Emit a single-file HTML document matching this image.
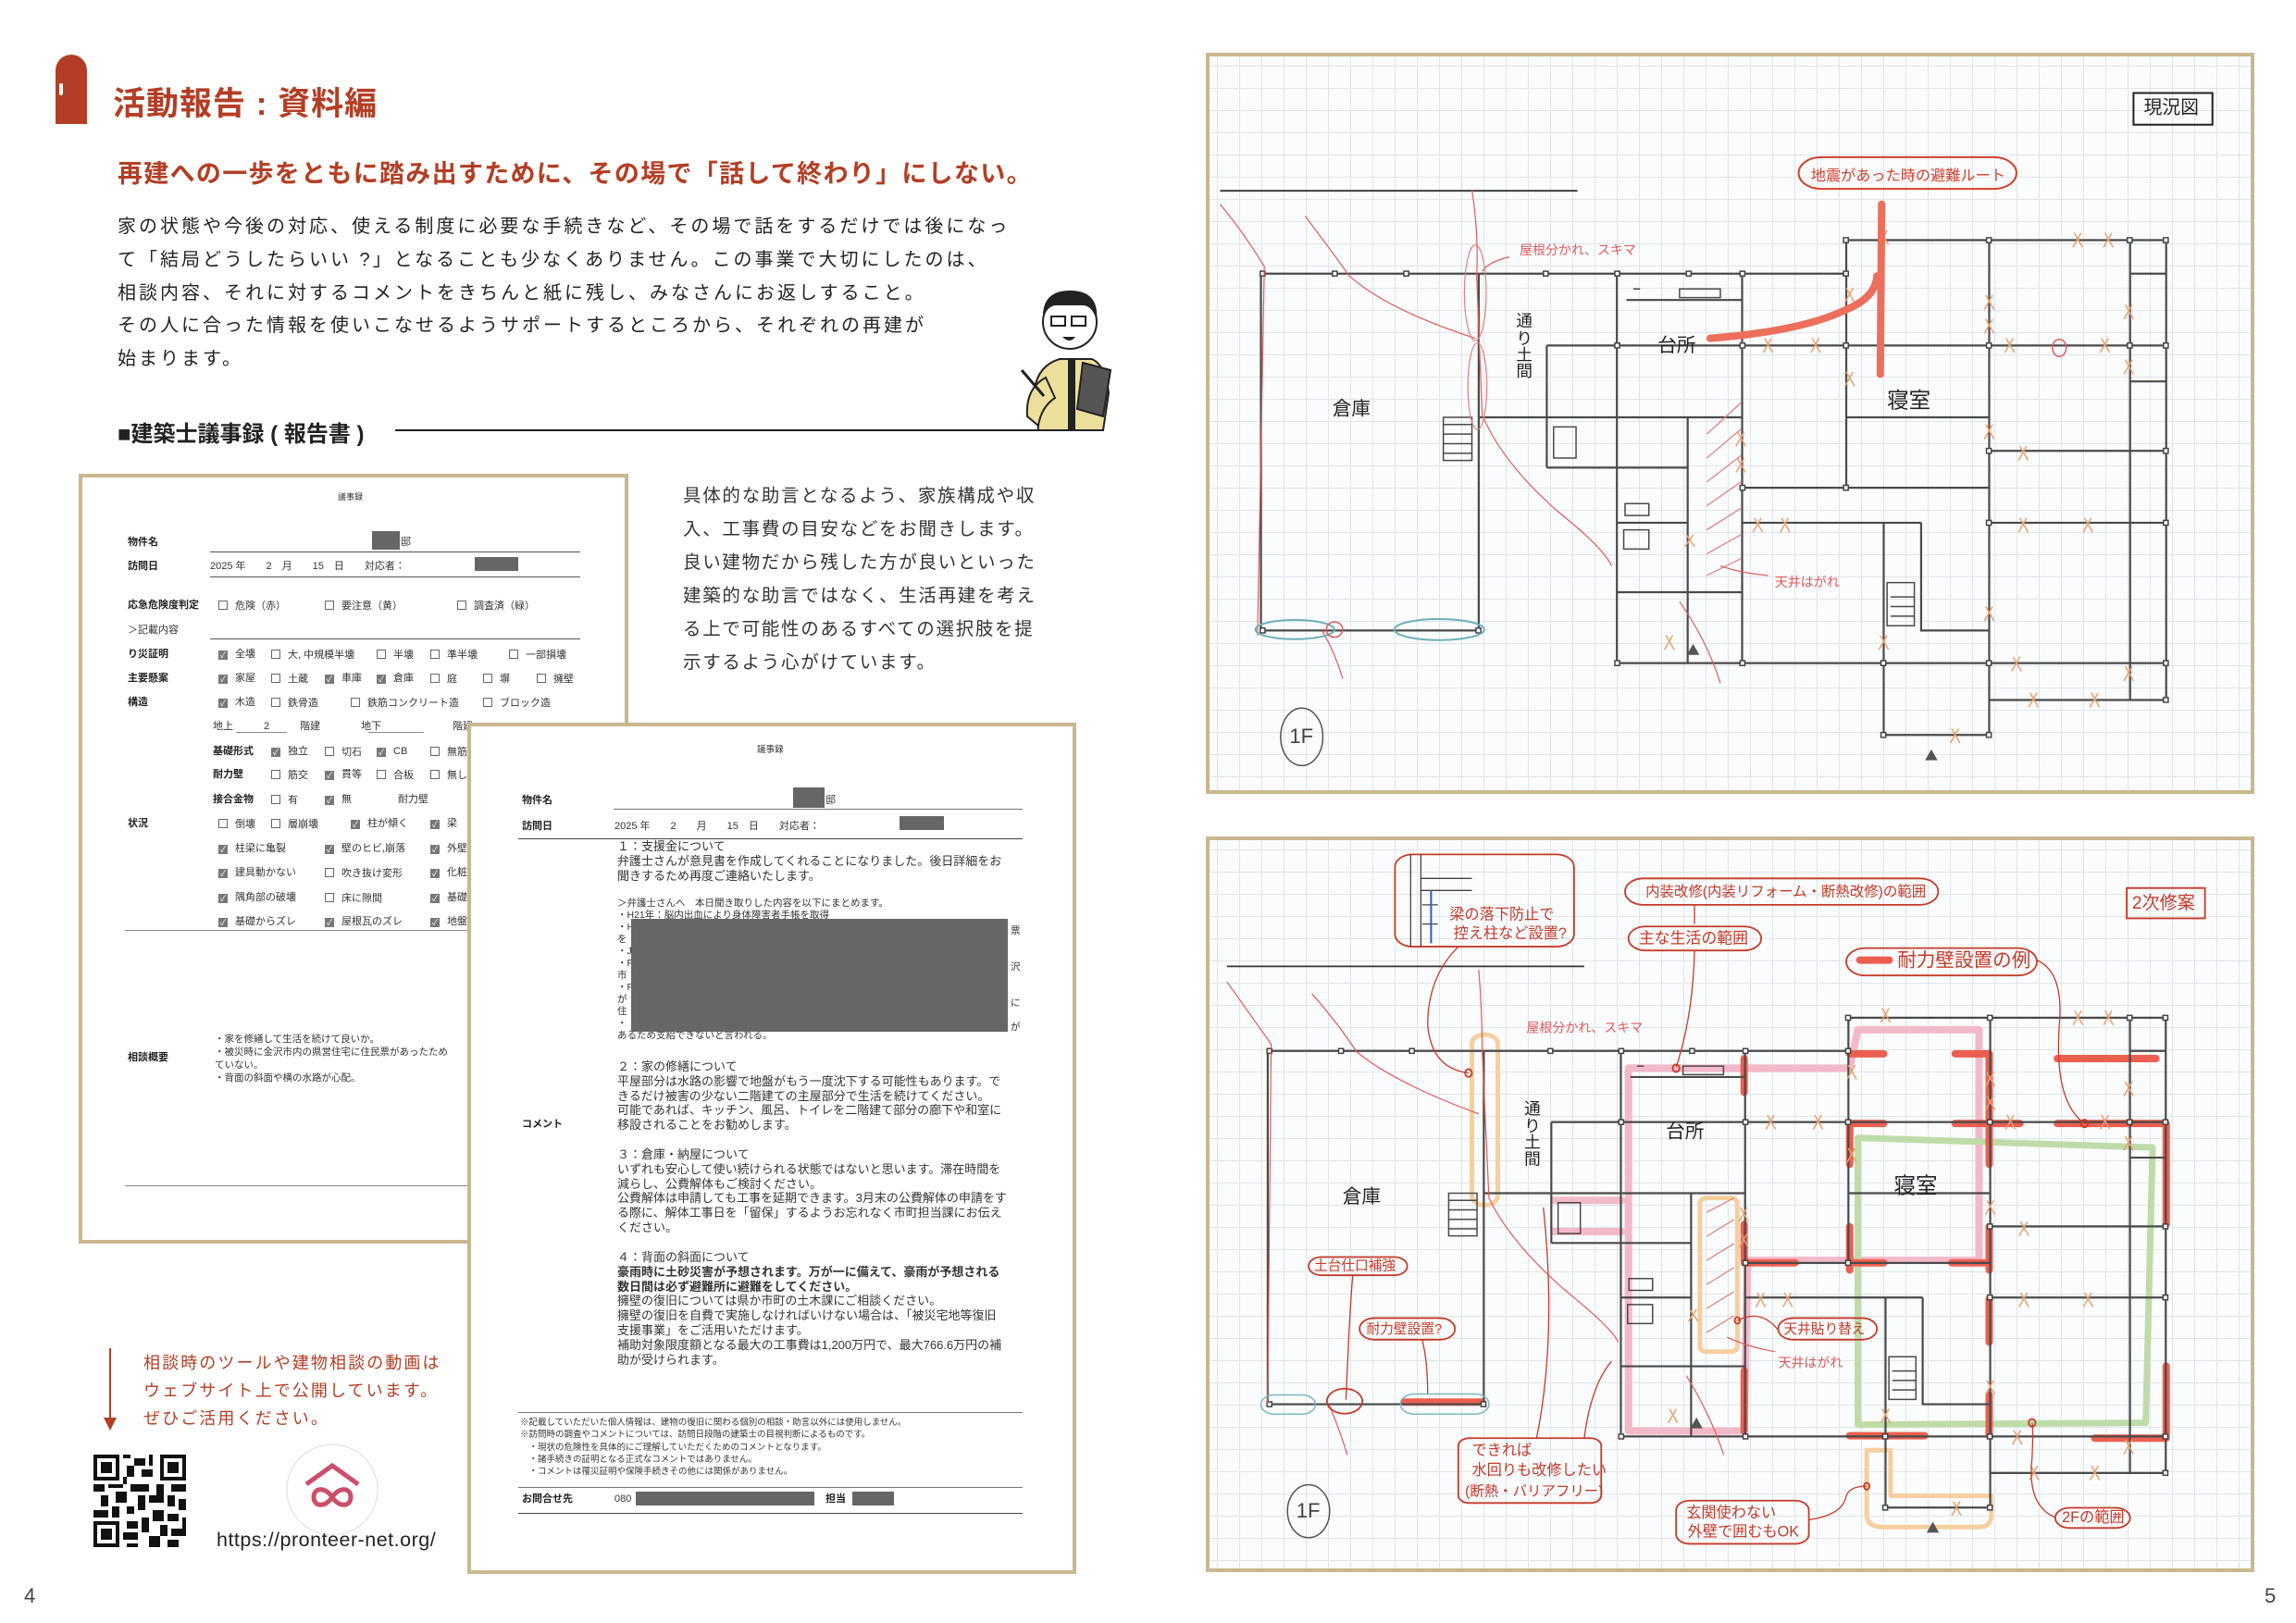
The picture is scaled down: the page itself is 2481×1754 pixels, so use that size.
<!DOCTYPE html>
<html><head><meta charset="utf-8">
<style>
*{margin:0;padding:0;box-sizing:border-box}
body{width:2481px;height:1754px;background:#fff;position:relative;overflow:hidden;font-family:"Liberation Sans","Noto Sans CJK JP",sans-serif;color:#222}
.a{position:absolute;white-space:nowrap}
.doc{position:absolute;background:#fff;border:4px solid #c9b88f}
.d{position:absolute;white-space:nowrap;font-size:11px;color:#333;line-height:1}
.b{font-weight:bold;color:#222}
.cb{display:inline-block;width:10px;height:10px;border:1px solid #666;vertical-align:-1px;margin-right:8px;text-align:center;font-size:9px;line-height:9px;color:#fff}
.ck{background:#777;border-color:#777}
.hl{position:absolute;height:1px;background:#555}
.red{position:absolute;background:#666}
.c{position:absolute;white-space:nowrap;font-size:13px;color:#333;line-height:1}
.plan{position:absolute;border:4px solid #c9b88f;background-color:#fbfcfd;background-image:linear-gradient(#dfe5ec 1px,transparent 1px),linear-gradient(90deg,#dfe5ec 1px,transparent 1px);background-size:24px 24px;background-position:8px 10px}
</style></head><body>

<!-- header -->
<div class="a" style="left:60px;top:59px;width:34px;height:75px;background:#b33e25;border-radius:17px 17px 0 0"></div>
<div class="a" style="left:64px;top:90px;width:4px;height:13px;background:#fff;border-radius:2px"></div>
<div class="a" style="left:122px;top:84px;font-size:35px;font-weight:bold;color:#b33e25;letter-spacing:1px">活動報告 : 資料編</div>
<div class="a" style="left:127px;top:166px;font-size:27px;font-weight:bold;color:#b33e25;letter-spacing:1.3px">再建への一歩をともに踏み出すために、その場で「話して終わり」にしない。</div>
<div class="a" style="left:127px;top:228px;font-size:20px;line-height:35.8px;color:#222;letter-spacing:3px;white-space:nowrap">家の状態や今後の対応、使える制度に必要な手続きなど、その場で話をするだけでは後になっ<br>て「結局どうしたらいい ?」となることも少なくありません。この事業で大切にしたのは、<br>相談内容、それに対するコメントをきちんと紙に残し、みなさんにお返しすること。<br>その人に合った情報を使いこなせるようサポートするところから、それぞれの再建が<br>始まります。</div>

<!-- character -->
<svg class="a" style="left:1100px;top:300px" width="110" height="170" viewBox="0 0 110 170">
<path d="M18 120 Q22 95 45 88 L80 88 Q95 95 98 125 L92 165 L22 165 Z" fill="#ecdf9c" stroke="#222" stroke-width="2"/>
<path d="M10 150 Q8 120 30 108 L40 130 Q25 140 22 160 Z" fill="#ecdf9c" stroke="#222" stroke-width="2"/>
<rect x="54" y="88" width="8" height="77" fill="#222"/>
<path d="M70 92 L100 100 L92 150 L64 142 Z" fill="#555" stroke="#222" stroke-width="2"/>
<line x1="4" y1="100" x2="28" y2="128" stroke="#222" stroke-width="3"/>
<circle cx="56" cy="48" r="29" fill="#fff" stroke="#222" stroke-width="2"/>
<path d="M27 46 Q25 14 56 14 Q88 14 85 46 Q80 30 70 30 L40 30 Q30 32 27 46Z" fill="#222"/>
<rect x="36" y="42" width="15" height="10" fill="#fff" stroke="#222" stroke-width="2"/>
<rect x="58" y="42" width="15" height="10" fill="#fff" stroke="#222" stroke-width="2"/>
<path d="M48 64 Q56 72 62 64Z" fill="#222"/>
</svg>

<div class="a" style="left:127px;top:449px;font-size:24px;font-weight:bold;color:#222">■建築士議事録 ( 報告書 )</div>
<div class="a" style="left:427px;top:464px;width:758px;height:2px;background:#222"></div>

<!-- doc 1 -->
<div class="doc" style="left:85px;top:512px;width:594px;height:832px"></div>
<div class="d" style="left:365px;top:533px;font-size:9px">議事録</div>
<div class="d b" style="left:138px;top:581px">物件名</div>
<div class="red" style="left:402px;top:574px;width:30px;height:20px"></div>
<div class="d" style="left:433px;top:581px">邸</div>
<div class="hl" style="left:227px;top:596px;width:400px"></div>
<div class="d b" style="left:138px;top:607px">訪問日</div>
<div class="d" style="left:227px;top:607px">2025 年　　2　月　　15　日　　対応者：</div>
<div class="red" style="left:513px;top:602px;width:47px;height:15px"></div>
<div class="hl" style="left:227px;top:623px;width:400px"></div>
<div class="d b" style="left:138px;top:649px">応急危険度判定</div>
<div class="d" style="left:236px;top:649px"><span class="cb"></span>危険（赤）</div>
<div class="d" style="left:351px;top:649px"><span class="cb"></span>要注意（黄）</div>
<div class="d" style="left:494px;top:649px"><span class="cb"></span>調査済（緑）</div>
<div class="d" style="left:138px;top:676px">＞記載内容</div>
<div class="hl" style="left:227px;top:690px;width:400px"></div>
<div class="d b" style="left:138px;top:702px">り災証明</div>
<div class="d" style="left:236px;top:702px"><span class="cb ck">✓</span>全壊</div>
<div class="d" style="left:293px;top:702px"><span class="cb"></span>大, 中規模半壊</div>
<div class="d" style="left:407px;top:702px"><span class="cb"></span>半壊</div>
<div class="d" style="left:465px;top:702px"><span class="cb"></span>準半壊</div>
<div class="d" style="left:550px;top:702px"><span class="cb"></span>一部損壊</div>
<div class="d b" style="left:138px;top:728px">主要懸案</div>
<div class="d" style="left:236px;top:728px"><span class="cb ck">✓</span>家屋</div>
<div class="d" style="left:293px;top:728px"><span class="cb"></span>土蔵</div>
<div class="d" style="left:351px;top:728px"><span class="cb ck">✓</span>車庫</div>
<div class="d" style="left:407px;top:728px"><span class="cb ck">✓</span>倉庫</div>
<div class="d" style="left:465px;top:728px"><span class="cb"></span>庭</div>
<div class="d" style="left:522px;top:728px"><span class="cb"></span>塀</div>
<div class="d" style="left:580px;top:728px"><span class="cb"></span>擁壁</div>
<div class="d b" style="left:138px;top:754px">構造</div>
<div class="d" style="left:236px;top:754px"><span class="cb ck">✓</span>木造</div>
<div class="d" style="left:293px;top:754px"><span class="cb"></span>鉄骨造</div>
<div class="d" style="left:379px;top:754px"><span class="cb"></span>鉄筋コンクリート造</div>
<div class="d" style="left:522px;top:754px"><span class="cb"></span>ブロック造</div>
<div class="d" style="left:230px;top:780px">地上　　　2　　　階建　　　　地下　　　　　　　階建</div>
<div class="hl" style="left:255px;top:791px;width:55px;background:#888"></div>
<div class="hl" style="left:398px;top:791px;width:60px;background:#888"></div>
<div class="d b" style="left:230px;top:807px">基礎形式</div>
<div class="d" style="left:293px;top:807px"><span class="cb ck">✓</span>独立</div>
<div class="d" style="left:351px;top:807px"><span class="cb"></span>切石</div>
<div class="d" style="left:407px;top:807px"><span class="cb ck">✓</span>CB</div>
<div class="d" style="left:465px;top:807px"><span class="cb"></span>無筋</div>
<div class="d b" style="left:230px;top:832px">耐力壁</div>
<div class="d" style="left:293px;top:832px"><span class="cb"></span>筋交</div>
<div class="d" style="left:351px;top:832px"><span class="cb ck">✓</span>貫等</div>
<div class="d" style="left:407px;top:832px"><span class="cb"></span>合板</div>
<div class="d" style="left:465px;top:832px"><span class="cb"></span>無し</div>
<div class="d b" style="left:230px;top:859px">接合金物</div>
<div class="d" style="left:293px;top:859px"><span class="cb"></span>有</div>
<div class="d" style="left:351px;top:859px"><span class="cb ck">✓</span>無</div>
<div class="d" style="left:430px;top:859px">耐力壁</div>
<div class="d b" style="left:138px;top:885px">状況</div>
<div class="d" style="left:236px;top:885px"><span class="cb"></span>倒壊</div>
<div class="d" style="left:293px;top:885px"><span class="cb"></span>層崩壊</div>
<div class="d" style="left:379px;top:885px"><span class="cb ck">✓</span>柱が傾く</div>
<div class="d" style="left:465px;top:885px"><span class="cb ck">✓</span>梁</div>
<div class="d" style="left:236px;top:912px"><span class="cb ck">✓</span>柱梁に亀裂</div>
<div class="d" style="left:351px;top:912px"><span class="cb ck">✓</span>壁のヒビ,崩落</div>
<div class="d" style="left:465px;top:912px"><span class="cb ck">✓</span>外壁</div>
<div class="d" style="left:236px;top:938px"><span class="cb ck">✓</span>建具動かない</div>
<div class="d" style="left:351px;top:938px"><span class="cb"></span>吹き抜け変形</div>
<div class="d" style="left:465px;top:938px"><span class="cb ck">✓</span>化粧</div>
<div class="d" style="left:236px;top:965px"><span class="cb ck">✓</span>隅角部の破壊</div>
<div class="d" style="left:351px;top:965px"><span class="cb"></span>床に隙間</div>
<div class="d" style="left:465px;top:965px"><span class="cb ck">✓</span>基礎</div>
<div class="d" style="left:236px;top:991px"><span class="cb ck">✓</span>基礎からズレ</div>
<div class="d" style="left:351px;top:991px"><span class="cb ck">✓</span>屋根瓦のズレ</div>
<div class="d" style="left:465px;top:991px"><span class="cb ck">✓</span>地盤</div>
<div class="hl" style="left:135px;top:1005px;width:380px;background:#888"></div>
<div class="d b" style="left:138px;top:1138px">相談概要</div>
<div class="d" style="left:232px;top:1116px;font-size:10.5px;line-height:14px">・家を修繕して生活を続けて良いか。<br>・被災時に金沢市内の県営住宅に住民票があったため<br>ていない。<br>・背面の斜面や横の水路が心配。</div>
<div class="hl" style="left:135px;top:1281px;width:380px;background:#888"></div>

<!-- right paragraph -->
<div class="a" style="left:738px;top:518px;font-size:19.5px;line-height:36px;letter-spacing:1.7px;color:#333">具体的な助言となるよう、家族構成や収<br>入、工事費の目安などをお聞きします。<br>良い建物だから残した方が良いといった<br>建築的な助言ではなく、生活再建を考え<br>る上で可能性のあるすべての選択肢を提<br>示するよう心がけています。</div>

<!-- doc 2 -->
<div class="doc" style="left:505px;top:781px;width:658px;height:920px"></div>
<div class="d" style="left:818px;top:806px;font-size:9.5px">議事録</div>
<div class="d b" style="left:564px;top:860px">物件名</div>
<div class="red" style="left:857px;top:851px;width:34px;height:22px"></div>
<div class="d" style="left:892px;top:860px">邸</div>
<div class="hl" style="left:663px;top:874px;width:442px;background:#777"></div>
<div class="d b" style="left:564px;top:888px">訪問日</div>
<div class="d" style="left:664px;top:888px">2025 年　　2　　月　　15　日　　対応者：</div>
<div class="red" style="left:972px;top:882px;width:48px;height:15px"></div>
<div class="hl" style="left:560px;top:906px;width:545px;background:#444"></div>
<div class="d b" style="left:564px;top:1210px">コメント</div>
<div class="c" style="left:667px;top:907px;line-height:16px">１：支援金について<br>弁護士さんが意見書を作成してくれることになりました。後日詳細をお<br>聞きするため再度ご連絡いたします。</div>
<div class="c" style="left:667px;top:970px;font-size:10.5px;line-height:13px">＞弁護士さんへ　本日聞き取りした内容を以下にまとめます。<br>・H21年：脳内出血により身体障害者手帳を取得<br>・H<br>を<br>・J<br>・F<br>市<br>・F<br>が<br>住<br>・<br>あるため支給できないと言われる。</div>
<div class="red" style="left:682px;top:993px;width:407px;height:122px"></div>
<div class="c" style="left:1092px;top:1000px;font-size:10.5px;line-height:13px">票<br><br><br>沢<br><br><br>に<br><br>が</div>
<div class="c" style="left:667px;top:1145px;line-height:15.8px">２：家の修繕について<br>平屋部分は水路の影響で地盤がもう一度沈下する可能性もあります。で<br>きるだけ被害の少ない二階建ての主屋部分で生活を続けてください。<br>可能であれば、キッチン、風呂、トイレを二階建て部分の廊下や和室に<br>移設されることをお勧めします。</div>
<div class="c" style="left:667px;top:1240px;line-height:15.8px">３：倉庫・納屋について<br>いずれも安心して使い続けられる状態ではないと思います。滞在時間を<br>減らし、公費解体もご検討ください。<br>公費解体は申請しても工事を延期できます。3月末の公費解体の申請をす<br>る際に、解体工事日を「留保」するようお忘れなく市町担当課にお伝え<br>ください。</div>
<div class="c" style="left:667px;top:1351px;line-height:15.8px">４：背面の斜面について<br><b>豪雨時に土砂災害が予想されます。万が一に備えて、豪雨が予想される</b><br><b>数日間は必ず避難所に避難をしてください。</b><br>擁壁の復旧については県か市町の土木課にご相談ください。<br>擁壁の復旧を自費で実施しなければいけない場合は、「被災宅地等復旧<br>支援事業」をご活用いただけます。<br>補助対象限度額となる最大の工事費は1,200万円で、最大766.6万円の補<br>助が受けられます。</div>
<div class="hl" style="left:560px;top:1526px;width:545px;background:#777"></div>
<div class="d" style="left:562px;top:1531px;font-size:9.5px;line-height:13.3px">※記載していただいた個人情報は、建物の復旧に関わる個別の相談・助言以外には使用しません。<br>※訪問時の調査やコメントについては、訪問日段階の建築士の目視判断によるものです。<br>　・現状の危険性を具体的にご理解していただくためのコメントとなります。<br>　・諸手続きの証明となる正式なコメントではありません。<br>　・コメントは罹災証明や保険手続きその他には関係がありません。</div>
<div class="hl" style="left:560px;top:1607px;width:545px;background:#777"></div>
<div class="d b" style="left:564px;top:1615px">お問合せ先</div>
<div class="d" style="left:664px;top:1615px">080</div>
<div class="red" style="left:687px;top:1612px;width:193px;height:15px"></div>
<div class="d b" style="left:892px;top:1615px">担当</div>
<div class="red" style="left:921px;top:1612px;width:45px;height:15px"></div>
<div class="hl" style="left:560px;top:1635px;width:545px;background:#444"></div>

<!-- note -->
<div class="a" style="left:118px;top:1457px;width:2px;height:80px;background:#b33e25"></div>
<div class="a" style="left:112px;top:1532px;width:0;height:0;border-left:7px solid transparent;border-right:7px solid transparent;border-top:14px solid #b33e25"></div>
<div class="a" style="left:155px;top:1458px;font-size:18px;line-height:30px;letter-spacing:2.1px;color:#b33e25">相談時のツールや建物相談の動画は<br>ウェブサイト上で公開しています。<br>ぜひご活用ください。</div>

<!-- QR -->
<svg class="a" style="left:101px;top:1572px" width="100" height="100" viewBox="0 0 25 25" shape-rendering="crispEdges">
<g fill="#111">
<rect x="0" y="0" width="7" height="7"/><rect x="18" y="0" width="7" height="7"/><rect x="0" y="18" width="7" height="7"/>
</g>
<g fill="#fff"><rect x="1" y="1" width="5" height="5"/><rect x="19" y="1" width="5" height="5"/><rect x="1" y="19" width="5" height="5"/></g>
<g fill="#111"><rect x="2" y="2" width="3" height="3"/><rect x="20" y="2" width="3" height="3"/><rect x="2" y="20" width="3" height="3"/>
<rect x="8" y="0" width="2" height="1"/><rect x="11" y="1" width="3" height="2"/><rect x="15" y="0" width="1" height="3"/><rect x="9" y="3" width="2" height="3"/><rect x="13" y="4" width="3" height="2"/><rect x="8" y="6" width="1" height="2"/><rect x="0" y="8" width="3" height="2"/><rect x="4" y="8" width="4" height="1"/><rect x="10" y="8" width="5" height="2"/><rect x="17" y="8" width="2" height="3"/><rect x="21" y="8" width="4" height="2"/><rect x="2" y="11" width="2" height="3"/><rect x="6" y="10" width="3" height="3"/><rect x="12" y="11" width="2" height="4"/><rect x="15" y="11" width="4" height="2"/><rect x="20" y="11" width="2" height="3"/><rect x="23" y="12" width="2" height="3"/><rect x="0" y="15" width="4" height="2"/><rect x="5" y="14" width="2" height="3"/><rect x="9" y="14" width="2" height="2"/><rect x="16" y="15" width="3" height="3"/><rect x="20" y="16" width="3" height="2"/><rect x="9" y="18" width="3" height="2"/><rect x="13" y="17" width="2" height="4"/><rect x="18" y="19" width="2" height="3"/><rect x="21" y="20" width="4" height="2"/><rect x="8" y="21" width="4" height="2"/><rect x="15" y="22" width="3" height="3"/><rect x="20" y="23" width="3" height="2"/><rect x="9" y="24" width="3" height="1"/><rect x="24" y="17" width="1" height="3"/></g>
</svg>
<svg class="a" style="left:309px;top:1560px" width="100" height="100" viewBox="0 0 100 100">
<circle cx="50" cy="50" r="49" fill="#fff" stroke="#ddd" stroke-width="1"/>
<path d="M22 44 L50 24 L78 44" fill="none" stroke="#cc4e6a" stroke-width="5"/>
<path d="M50 58 C42 46 30 48 30 58 C30 68 42 70 50 58 C58 46 70 48 70 58 C70 68 58 70 50 58Z" fill="none" stroke="#cc4e6a" stroke-width="5"/>
</svg>
<div class="a" style="left:234px;top:1652px;font-size:21.5px;color:#222;letter-spacing:0.5px">https://pronteer-net.org/</div>

<div class="a" style="left:26px;top:1712px;font-size:22px;color:#444">4</div>
<div class="a" style="left:2447px;top:1712px;font-size:22px;color:#444">5</div>

<!-- PLAN 1 -->
<div class="plan" style="left:1303px;top:57px;width:1133px;height:801px"></div>
<svg class="a" style="left:1300px;top:55px" width="1140" height="805" viewBox="0 0 1550 1555" preserveAspectRatio="none">
<defs>
<g id="walls" fill="none" stroke="#4a4a4a" stroke-width="2.2">
<path vector-effect="non-scaling-stroke" d="M85,465 V1210 H405 V465 M85,465 H945 M945,395 H1415 V1355 M1362,395 V1355 M1362,465 H1415 M505,615 H1415 M505,615 V870 M405,765 H792 M505,870 H712 M608,465 V1278 M712,765 V1278 M792,465 V1278 M945,395 V912 M792,912 H1155 M1155,395 V1428 M792,985 H1055 M1155,985 H1415 M1000,985 V1428 M1055,985 V1210 H1155 M608,1130 H792 M608,1278 H1415 M1155,1355 H1415 M1000,1428 H1155 M1155,835 H1415 M622,520 H792 M608,985 H712 M505,765 H608 M1362,690 H1415 M945,765 H1155"/>
<path vector-effect="non-scaling-stroke" d="M353,765 L395,765 L395,855 L353,855 Z M353,780 H395 M353,800 H395 M353,820 H395 M353,840 H395" stroke-width="1.5"/>
<path vector-effect="non-scaling-stroke" d="M515,785 H548 V850 H515 Z M618,1000 H655 V1040 H618 Z M620,945 H655 V970 H620 Z M1005,1110 H1045 V1200 H1005 Z M1010,1140 H1045 M1010,1160 H1045 M1010,1180 H1045 M632,497 h10 M700,497 H760 V515 H700 Z" stroke-width="1.5"/>
<g fill="#fff" stroke="#444" stroke-width="1.5">
<rect x="84" y="460" width="7" height="10" vector-effect="non-scaling-stroke"/><rect x="190" y="460" width="7" height="10" vector-effect="non-scaling-stroke"/><rect x="295" y="460" width="7" height="10" vector-effect="non-scaling-stroke"/><rect x="500" y="460" width="7" height="10" vector-effect="non-scaling-stroke"/><rect x="605" y="460" width="7" height="10" vector-effect="non-scaling-stroke"/><rect x="710" y="460" width="7" height="10" vector-effect="non-scaling-stroke"/><rect x="789" y="460" width="7" height="10" vector-effect="non-scaling-stroke"/><rect x="941" y="460" width="7" height="10" vector-effect="non-scaling-stroke"/><rect x="941" y="390" width="7" height="10" vector-effect="non-scaling-stroke"/><rect x="1151" y="390" width="7" height="10" vector-effect="non-scaling-stroke"/><rect x="1358" y="390" width="7" height="10" vector-effect="non-scaling-stroke"/><rect x="1411" y="390" width="7" height="10" vector-effect="non-scaling-stroke"/><rect x="1151" y="610" width="7" height="10" vector-effect="non-scaling-stroke"/><rect x="1358" y="610" width="7" height="10" vector-effect="non-scaling-stroke"/><rect x="1411" y="610" width="7" height="10" vector-effect="non-scaling-stroke"/><rect x="605" y="610" width="7" height="10" vector-effect="non-scaling-stroke"/><rect x="789" y="610" width="7" height="10" vector-effect="non-scaling-stroke"/><rect x="941" y="610" width="7" height="10" vector-effect="non-scaling-stroke"/><rect x="84" y="1205" width="7" height="10" vector-effect="non-scaling-stroke"/><rect x="401" y="1205" width="7" height="10" vector-effect="non-scaling-stroke"/><rect x="605" y="1273" width="7" height="10" vector-effect="non-scaling-stroke"/><rect x="789" y="1273" width="7" height="10" vector-effect="non-scaling-stroke"/><rect x="996" y="1273" width="7" height="10" vector-effect="non-scaling-stroke"/><rect x="1151" y="1273" width="7" height="10" vector-effect="non-scaling-stroke"/><rect x="1411" y="1273" width="7" height="10" vector-effect="non-scaling-stroke"/><rect x="1411" y="1350" width="7" height="10" vector-effect="non-scaling-stroke"/><rect x="1151" y="1423" width="7" height="10" vector-effect="non-scaling-stroke"/><rect x="996" y="1423" width="7" height="10" vector-effect="non-scaling-stroke"/><rect x="1151" y="980" width="7" height="10" vector-effect="non-scaling-stroke"/><rect x="1411" y="980" width="7" height="10" vector-effect="non-scaling-stroke"/><rect x="789" y="907" width="7" height="10" vector-effect="non-scaling-stroke"/><rect x="941" y="907" width="7" height="10" vector-effect="non-scaling-stroke"/><rect x="1151" y="830" width="7" height="10" vector-effect="non-scaling-stroke"/><rect x="1411" y="830" width="7" height="10" vector-effect="non-scaling-stroke"/>
</g>
<path vector-effect="non-scaling-stroke" stroke="#e9a070" stroke-width="1.5" d="M995,375 l12,30 M1005,375 l-12,30 M825,600 l12,30 M835,600 l-12,30 M895,600 l12,30 M905,600 l-12,30 M945,495 l12,30 M955,495 l-12,30 M1150,510 l12,30 M1160,510 l-12,30 M1150,560 l12,30 M1160,560 l-12,30 M1355,530 l12,30 M1365,530 l-12,30 M1180,600 l12,30 M1190,600 l-12,30 M1320,600 l12,30 M1330,600 l-12,30 M1280,380 l12,30 M1290,380 l-12,30 M1325,380 l12,30 M1335,380 l-12,30 M1355,645 l12,30 M1365,645 l-12,30 M1150,780 l12,30 M1160,780 l-12,30 M785,795 l12,30 M795,795 l-12,30 M785,850 l12,30 M795,850 l-12,30 M945,670 l12,30 M955,670 l-12,30 M810,975 l12,30 M820,975 l-12,30 M850,975 l12,30 M860,975 l-12,30 M1200,825 l12,30 M1210,825 l-12,30 M1200,975 l12,30 M1210,975 l-12,30 M1295,975 l12,30 M1305,975 l-12,30 M1150,1160 l12,30 M1160,1160 l-12,30 M680,1220 l12,30 M690,1220 l-12,30 M995,1220 l12,30 M1005,1220 l-12,30 M1190,1265 l12,30 M1200,1265 l-12,30 M1355,1285 l12,30 M1365,1285 l-12,30 M1215,1340 l12,30 M1225,1340 l-12,30 M1305,1340 l12,30 M1315,1340 l-12,30 M1100,1415 l12,30 M1110,1415 l-12,30 M710,1010 l12,25 M720,1010 l-12,25"/>
<path vector-effect="non-scaling-stroke" d="M720,1240 l8,20 l-16,0z M1070,1460 l8,20 l-16,0z" fill="#555" stroke="#555" stroke-width="1"/>
</g>
</defs>
<path vector-effect="non-scaling-stroke" d="M25,292 H550" stroke="#333" stroke-width="1.8"/>
<use href="#walls"/>
<path vector-effect="non-scaling-stroke" d="M740,800 L790,735 M740,850 L790,790 M740,900 L790,845 M740,950 L790,900 M740,1000 L790,955 M740,1050 L790,1010 M740,1095 L790,1060" stroke="#e07a7a" stroke-width="1.2"/>
<path vector-effect="non-scaling-stroke" d="M25,320 Q60,380 90,450 L80,1220 M150,345 Q190,420 215,470 Q270,540 400,600 M395,290 Q405,380 402,470 L410,760 Q440,860 520,960 Q590,1040 600,1075 M175,1210 Q195,1260 205,1310 M700,1150 Q740,1230 760,1320 M760,1075 Q790,1090 830,1095 M410,460 Q420,440 450,430" fill="none" stroke="#e05a5a" stroke-width="1.2"/>
<path vector-effect="non-scaling-stroke" d="M745,600 Q880,585 945,540 Q988,515 990,470 M997,320 L995,675" fill="none" stroke="#ec6f5c" stroke-width="8" stroke-linecap="round"/>
<ellipse cx="135" cy="1208" rx="58" ry="20" fill="none" stroke="#6ab0b8" stroke-width="2" vector-effect="non-scaling-stroke"/>
<ellipse cx="347" cy="1208" rx="66" ry="22" fill="none" stroke="#6ab0b8" stroke-width="2" vector-effect="non-scaling-stroke"/>
<ellipse cx="193" cy="1208" rx="12" ry="16" fill="none" stroke="#e05a5a" stroke-width="1.5" vector-effect="non-scaling-stroke"/>
<ellipse cx="1258" cy="620" rx="10" ry="18" fill="none" stroke="#e05a5a" stroke-width="1.5" vector-effect="non-scaling-stroke"/>
<ellipse cx="400" cy="505" rx="16" ry="100" fill="none" stroke="#e08080" stroke-width="1.2" vector-effect="non-scaling-stroke"/>
<ellipse cx="403" cy="700" rx="14" ry="90" fill="none" stroke="#e08080" stroke-width="1.2" vector-effect="non-scaling-stroke"/>
<rect x="875" y="222" width="320" height="66" rx="33" fill="none" stroke="#d2402c" stroke-width="2" vector-effect="non-scaling-stroke"/>
<rect x="1367" y="88" width="116" height="66" fill="none" stroke="#222" stroke-width="2" vector-effect="non-scaling-stroke"/>
<ellipse cx="145" cy="1432" rx="31" ry="60" fill="none" stroke="#555" stroke-width="1.5" vector-effect="non-scaling-stroke"/>
<g font-family="Liberation Sans,Noto Sans CJK JP,sans-serif">
<text transform="translate(893,270) scale(1,1.42)" font-size="22" fill="#d2402c">地震があった時の避難ルート</text>
<text transform="translate(1382,130) scale(1,1.42)" font-size="27" fill="#222">現況図</text>
<text transform="translate(190,760) scale(1,1.42)" font-size="28" fill="#222">倉庫</text>
<text transform="translate(668,628) scale(1,1.42)" font-size="28" fill="#222">台所</text>
<text transform="translate(1005,745) scale(1,1.42)" font-size="32" fill="#222">寝室</text>
<text transform="translate(460,575) scale(1,1.42)" font-size="24" fill="#222">通</text>
<text transform="translate(460,612) scale(1,1.42)" font-size="24" fill="#222">り</text>
<text transform="translate(460,646) scale(1,1.42)" font-size="24" fill="#222">土</text>
<text transform="translate(460,680) scale(1,1.42)" font-size="24" fill="#222">間</text>
<text transform="translate(465,425) scale(1,1.42)" font-size="19" fill="#e05a5a">屋根分かれ、スキマ</text>
<text transform="translate(840,1118) scale(1,1.42)" font-size="19" fill="#e05a5a">天井はがれ</text>
<text transform="translate(127,1445) scale(1,1.42)" font-size="30" fill="#444">1F</text>
</g>
</svg>

<!-- PLAN 2 -->
<div class="plan" style="left:1303px;top:904px;width:1133px;height:795px"></div>
<svg class="a" style="left:1300px;top:900px" width="1140" height="810" viewBox="0 0 1550 1560" preserveAspectRatio="none">
<path vector-effect="non-scaling-stroke" d="M35,278 H560" stroke="#333" stroke-width="1.8"/>
<g fill="none" stroke-linecap="round" stroke-linejoin="round">
<path vector-effect="non-scaling-stroke" d="M625,490 L950,490 L962,410 L1140,410 L1140,890 L800,890 L795,1245 L625,1245 Z M515,765 H615 M515,830 H615" stroke="#f4b9c9" stroke-width="8"/>
<path vector-effect="non-scaling-stroke" d="M962,635 L1395,655 L1385,1228 L962,1232 Z" stroke="#bfdca8" stroke-width="7"/>
<rect x="395" y="420" width="38" height="355" rx="19" stroke="#f6cf9e" stroke-width="5" vector-effect="non-scaling-stroke"/>
<rect x="730" y="760" width="55" height="320" rx="10" stroke="#f6cf9e" stroke-width="5" vector-effect="non-scaling-stroke"/>
<path vector-effect="non-scaling-stroke" d="M975,1285 V1420 Q975,1445 1000,1445 H1140 Q1158,1445 1158,1420 V1380 H1010 V1285 Z" stroke="#f6cf9e" stroke-width="5"/>
<path vector-effect="non-scaling-stroke" d="M795,470 V540 M950,460 H1000 M1105,460 H1155 V690 M950,605 H1000 M1105,605 H1200 M1255,470 H1400 M1255,605 H1415 V815 M950,605 V690 M795,815 V890 M795,895 H870 M950,820 V910 M950,895 H1000 M1100,895 H1155 M1155,820 V910 M1155,970 V1060 M1155,1170 V1255 M950,1255 H1060 M1310,1260 H1415 M1415,1110 V1260 M795,1120 V1245 M295,1185 H410" stroke="#ec5f50" stroke-width="8"/>
</g>
<use href="#walls" transform="matrix(0.992,0,0,0.987,10.7,-4.9)"/>
<path vector-effect="non-scaling-stroke" d="M740,790 L780,760 M740,840 L780,805 M740,890 L780,855 M740,940 L780,905 M740,990 L780,955 M740,1040 L780,1005" stroke="#e07a7a" stroke-width="1.2"/>
<path vector-effect="non-scaling-stroke" d="M35,310 Q70,380 100,440 L95,1190 M160,335 Q200,400 225,455 Q280,520 405,585 M405,285 Q410,370 410,450 L420,760 Q450,850 530,950 Q600,1030 610,1060 M185,1190 Q200,1240 212,1295 M710,1130 Q745,1210 765,1295 M770,1050 Q800,1070 840,1080" fill="none" stroke="#e05a5a" stroke-width="1.2"/>
<path vector-effect="non-scaling-stroke" d="M375,237 Q330,300 330,400 Q335,490 390,500 M722,245 Q720,380 695,488 M722,190 V150 M1225,265 Q1265,290 1258,400 Q1250,560 1295,605 M220,920 Q215,1000 210,1180 M322,1055 Q330,1100 330,1170 M490,1260 Q520,1050 500,780 M560,1260 Q570,1150 600,1100 M845,1035 Q820,990 785,1015 M890,1430 Q940,1420 945,1380 Q950,1360 975,1360 M1252,1425 Q1210,1400 1218,1300 Q1220,1240 1218,1228" fill="none" stroke="#c43a28" stroke-width="1.3"/>
<g fill="none" stroke="#c43a28" stroke-width="1.8">
<rect vector-effect="non-scaling-stroke" x="282" y="45" width="263" height="192" rx="26"/>
<rect vector-effect="non-scaling-stroke" x="620" y="95" width="460" height="55" rx="27"/>
<rect vector-effect="non-scaling-stroke" x="625" y="195" width="195" height="50" rx="25"/>
<rect vector-effect="non-scaling-stroke" x="945" y="240" width="280" height="57" rx="28"/>
<rect vector-effect="non-scaling-stroke" x="1357" y="115" width="115" height="63"/>
<rect vector-effect="non-scaling-stroke" x="155" y="883" width="145" height="38" rx="19"/>
<rect vector-effect="non-scaling-stroke" x="230" y="1010" width="140" height="45" rx="22"/>
<rect vector-effect="non-scaling-stroke" x="845" y="1010" width="145" height="45" rx="22"/>
<rect vector-effect="non-scaling-stroke" x="375" y="1260" width="210" height="135" rx="16"/>
<rect vector-effect="non-scaling-stroke" x="695" y="1390" width="195" height="90" rx="20"/>
<rect vector-effect="non-scaling-stroke" x="1252" y="1405" width="110" height="42" rx="21"/>
<ellipse vector-effect="non-scaling-stroke" cx="208" cy="1183" rx="26" ry="26"/>
<ellipse vector-effect="non-scaling-stroke" cx="390" cy="500" rx="5" ry="8"/>
<ellipse vector-effect="non-scaling-stroke" cx="695" cy="490" rx="5" ry="8"/>
<ellipse vector-effect="non-scaling-stroke" cx="1295" cy="605" rx="5" ry="8"/>
<ellipse vector-effect="non-scaling-stroke" cx="1218" cy="1228" rx="5" ry="8"/>
<ellipse vector-effect="non-scaling-stroke" cx="785" cy="1015" rx="4" ry="7"/>
<ellipse vector-effect="non-scaling-stroke" cx="975" cy="1360" rx="4" ry="7"/>
</g>
<path vector-effect="non-scaling-stroke" d="M965,265 H1008" stroke="#ec5f50" stroke-width="8" stroke-linecap="round"/>
<path vector-effect="non-scaling-stroke" d="M305,45 V237 M320,45 V237 M320,95 H395 M320,120 H395 M322,150 H345 M322,190 H345" stroke="#444" stroke-width="1.3" fill="none"/>
<path vector-effect="non-scaling-stroke" d="M335,120 V230" stroke="#3060b0" stroke-width="2"/>
<rect x="85" y="1170" width="80" height="40" rx="20" fill="none" stroke="#7ab8c4" stroke-width="1.5" vector-effect="non-scaling-stroke"/>
<rect x="290" y="1168" width="130" height="42" rx="21" fill="none" stroke="#7ab8c4" stroke-width="1.5" vector-effect="non-scaling-stroke"/>
<ellipse cx="155" cy="1412" rx="31" ry="55" fill="none" stroke="#555" stroke-width="1.5" vector-effect="non-scaling-stroke"/>
<g font-family="Liberation Sans,Noto Sans CJK JP,sans-serif">
<text transform="translate(362,180) scale(1,1.42)" font-size="22" fill="#c43a28">梁の落下防止で</text>
<text transform="translate(368,220) scale(1,1.42)" font-size="22" fill="#c43a28">控え柱など設置?</text>
<text transform="translate(650,132) scale(1,1.42)" font-size="21" fill="#c43a28">内装改修(内装リフォーム・断熱改修)の範囲</text>
<text transform="translate(640,230) scale(1,1.42)" font-size="23" fill="#c43a28">主な生活の範囲</text>
<text transform="translate(1020,278) scale(1,1.42)" font-size="28" fill="#c43a28">耐力壁設置の例</text>
<text transform="translate(1365,158) scale(1,1.42)" font-size="26" fill="#c43a28">2次修案</text>
<text transform="translate(163,910) scale(1,1.42)" font-size="20" fill="#c43a28">土台仕口補強</text>
<text transform="translate(240,1042) scale(1,1.42)" font-size="20" fill="#c43a28">耐力壁設置?</text>
<text transform="translate(853,1042) scale(1,1.42)" font-size="20" fill="#c43a28">天井貼り替え</text>
<text transform="translate(395,1295) scale(1,1.42)" font-size="22" fill="#c43a28">できれば</text>
<text transform="translate(395,1337) scale(1,1.42)" font-size="22" fill="#c43a28">水回りも改修したい</text>
<text transform="translate(385,1380) scale(1,1.42)" font-size="21" fill="#c43a28">(断熱・バリアフリー)</text>
<text transform="translate(710,1425) scale(1,1.42)" font-size="22" fill="#c43a28">玄関使わない</text>
<text transform="translate(712,1465) scale(1,1.42)" font-size="22" fill="#c43a28">外壁で囲むもOK</text>
<text transform="translate(1262,1435) scale(1,1.42)" font-size="22" fill="#c43a28">2Fの範囲</text>
<text transform="translate(205,770) scale(1,1.42)" font-size="28" fill="#222">倉庫</text>
<text transform="translate(680,635) scale(1,1.42)" font-size="28" fill="#222">台所</text>
<text transform="translate(1015,750) scale(1,1.42)" font-size="32" fill="#222">寝室</text>
<text transform="translate(472,585) scale(1,1.42)" font-size="24" fill="#222">通</text>
<text transform="translate(472,622) scale(1,1.42)" font-size="24" fill="#222">り</text>
<text transform="translate(472,656) scale(1,1.42)" font-size="24" fill="#222">土</text>
<text transform="translate(472,690) scale(1,1.42)" font-size="24" fill="#222">間</text>
<text transform="translate(475,415) scale(1,1.42)" font-size="19" fill="#e05a5a">屋根分かれ、スキマ</text>
<text transform="translate(845,1112) scale(1,1.42)" font-size="19" fill="#e05a5a">天井はがれ</text>
<text transform="translate(137,1425) scale(1,1.42)" font-size="30" fill="#444">1F</text>
</g>
</svg>
</body></html>
